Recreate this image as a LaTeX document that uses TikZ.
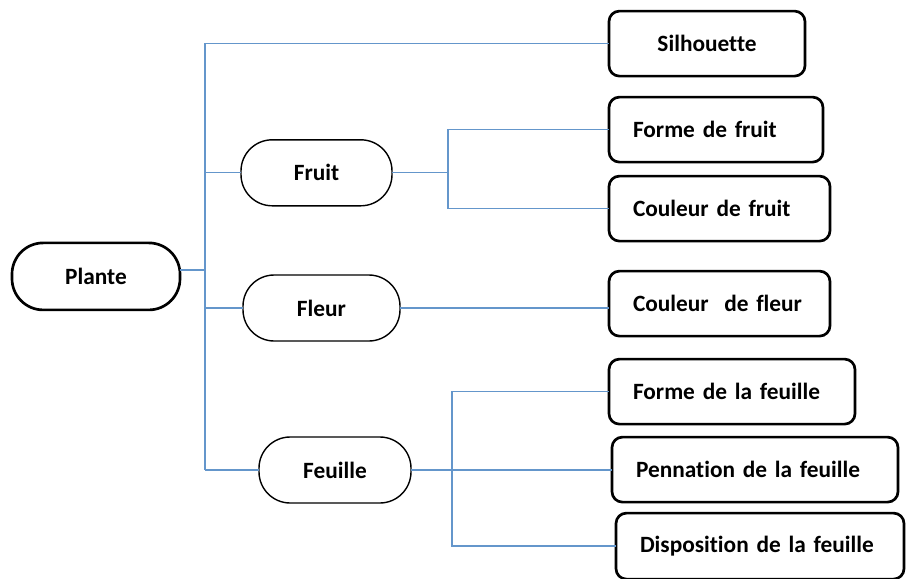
\documentclass[tikz,border=0pt]{standalone}
\usepackage{fontspec}
\setmainfont{Carlito}[Ligatures={NoCommon,NoRequired,NoContextual}]
\usetikzlibrary{positioning}

\begin{document}
\begin{tikzpicture}[
  node distance=5mm and 8mm,
  stem/.style={
    draw,
    line width=1.9pt,
    outer sep=0pt,
    rounded corners=7.8mm,
    align=center,
    font=\fontsize{16.6}{20}\selectfont\bfseries,
    minimum width=42mm,
    minimum height=16.75mm
  },
  twig/.style={
    draw,
    line width=1pt,
    outer sep=0pt,
    rounded corners=7.8mm,
    align=center,
    font=\fontsize{16.6}{20}\selectfont\bfseries,
    minimum height=16.5mm
  },
  leaf/.style={
    draw,
    line width=1.9pt,
    outer sep=0pt,
    rounded corners=2.6mm,
    align=left,
    inner xsep=6mm,
    font=\fontsize{16.6}{20}\selectfont\bfseries,
    minimum height=16.25mm
  },
  link/.style={line width=0.9pt, draw={rgb,255:red,100;green,150;blue,203}}
]
\useasboundingbox (0,0) rectangle (226.5mm,-144.5mm);

\node[stem] (plante) at (24mm,-69.1mm) {Plante};
\node[twig, minimum width=37.75mm, above right=25.9mm and 15.25mm of plante.east, anchor=west] (fruit) {Fruit};
\node[twig, minimum width=39.25mm, below right=7.9mm and 15.75mm of plante.east, anchor=west] (fleur) {Fleur};
\node[twig, minimum width=38mm, below right=48.4mm and 19.75mm of plante.east, anchor=west] (feuille) {Feuille};

\node[leaf, align=center, text width=37mm, anchor=west] (silhouette) at (152.25mm,-10.9mm) {Silhouette};
\node[leaf, text width=41.5mm, below=5.25mm of silhouette.south west, anchor=north west] (formefruit) {Forme de fruit};
\node[leaf, text width=43.25mm, below=3.5mm of formefruit.south west, anchor=north west] (couleurfruit) {Couleur de fruit};
\node[leaf, text width=43.25mm, below=7.5mm of couleurfruit.south west, anchor=north west] (couleurfleur) {Couleur \ de fleur};
\node[leaf, text width=49.5mm, below=5.75mm of couleurfleur.south west, anchor=north west] (formefeuille) {Forme de la feuille};
\node[leaf, text width=59.5mm, below=3.25mm of formefeuille.south west, anchor=north west, xshift=0.75mm] (pennation) {Pennation de la feuille};
\node[leaf, text width=60mm, minimum height=16.5mm, below=2.75mm of pennation.south west, anchor=north west, xshift=1mm] (disposition) {Disposition de la feuille};

\coordinate (hub) at ([xshift=6.25mm, yshift=1.6mm]plante.east);
\coordinate (fruitfork) at ([xshift=14mm]fruit.east);
\coordinate (feuillefork) at ([xshift=10.25mm]feuille.east);

\draw[link] ([yshift=1.6mm]plante.east) -- (hub);
\draw[link] (silhouette.west) -| (hub |- feuille.west);
\draw[link] (fruit.west) -- (fruit.west -| hub);
\draw[link] (fleur.west) -- (fleur.west -| hub);
\draw[link] (feuille.west) -- (feuille.west -| hub);
\draw[link] (fruit.east) -- (fruitfork);
\draw[link] (formefruit.west) -| (fruitfork) |- (couleurfruit.west);
\draw[link] (fleur.east) -- (fleur.east -| couleurfleur.west);
\draw[link] (feuille.east) -- (feuille.east -| pennation.west);
\draw[link] (formefeuille.west) -| (feuillefork) |- (disposition.west);
\end{tikzpicture}
\end{document}
